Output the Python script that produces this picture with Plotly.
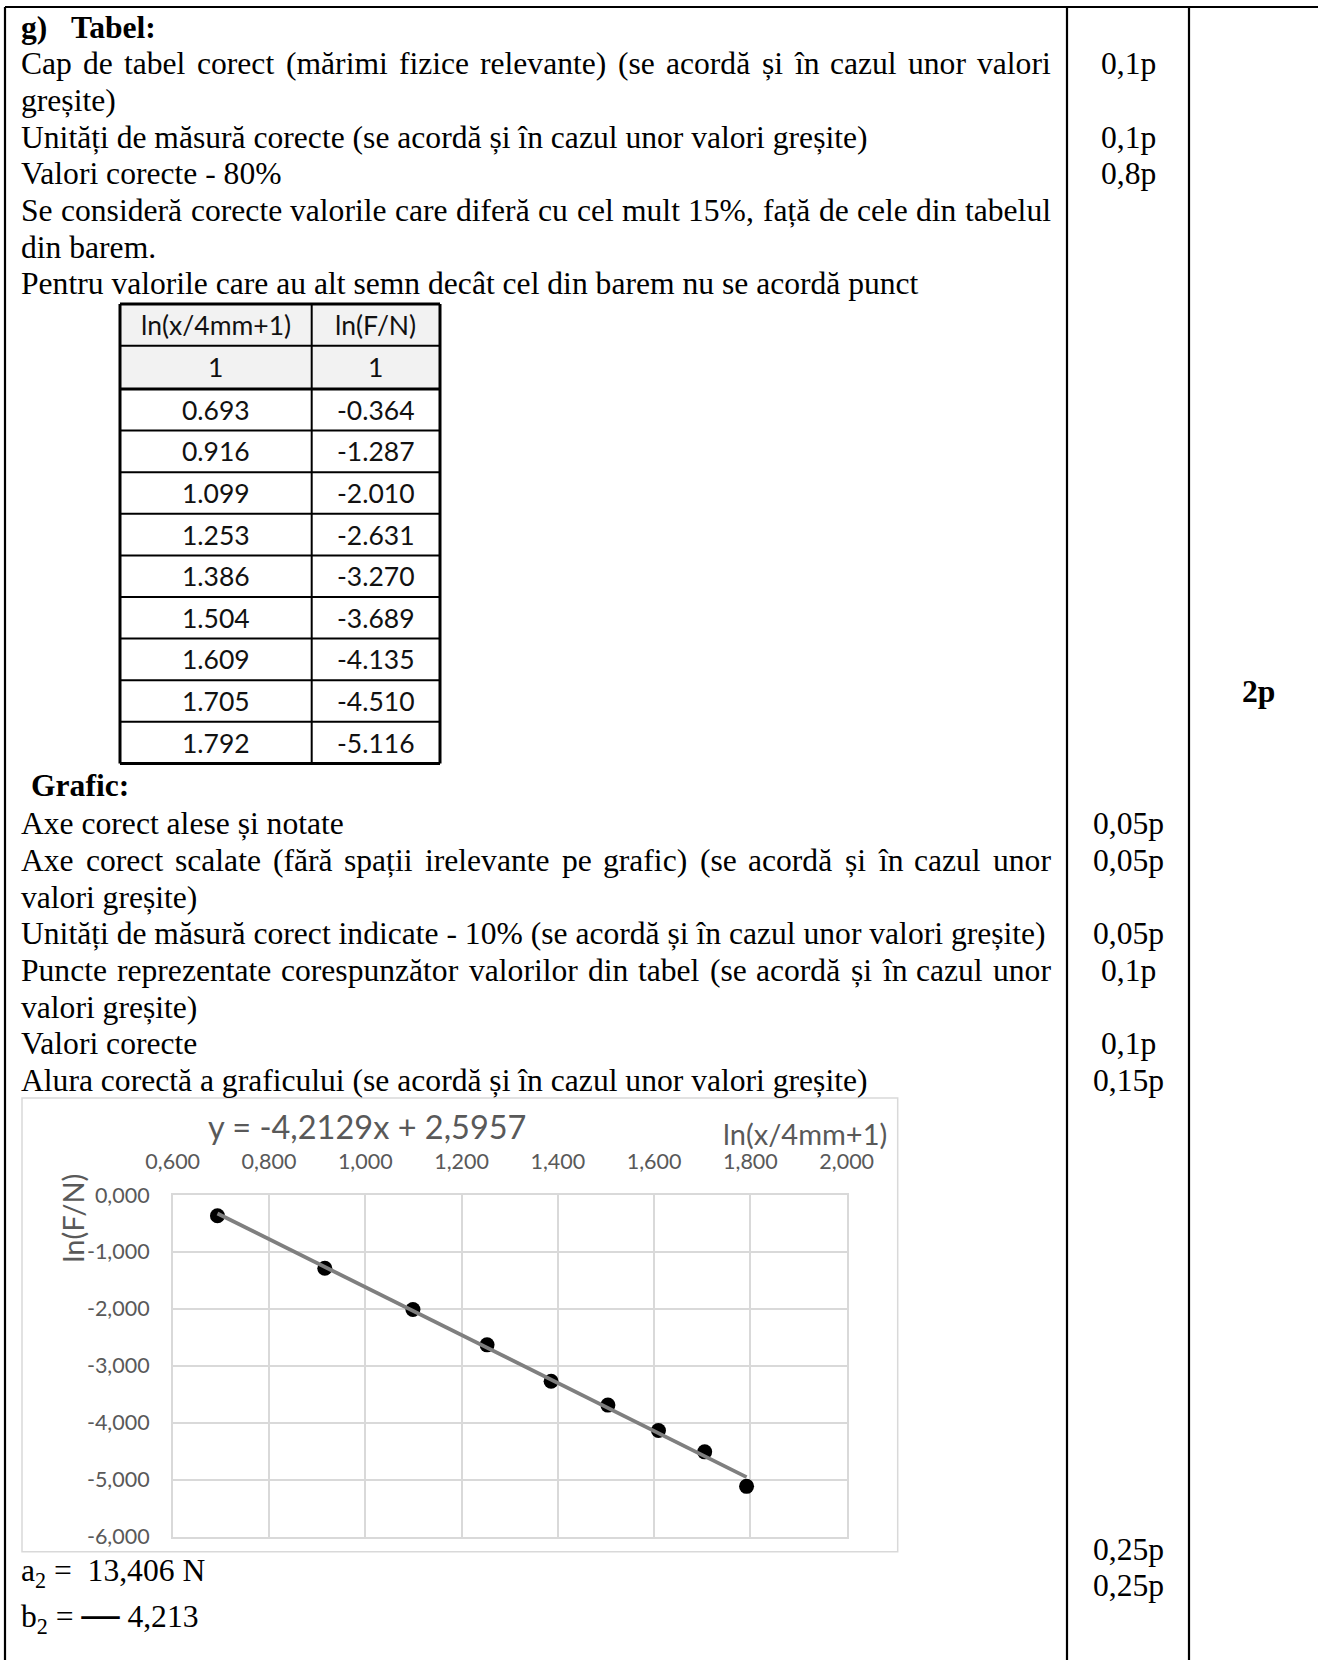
import plotly.graph_objects as go

W, H = 1318, 1660

# ---------------- data ----------------
ln_x = [0.693, 0.916, 1.099, 1.253, 1.386, 1.504, 1.609, 1.705, 1.792]
ln_F = [-0.364, -1.287, -2.010, -2.631, -3.270, -3.689, -4.135, -4.510, -5.116]
table_header = ["ln(x/4mm+1)", "ln(F/N)"]
table_units = ["1", "1"]

trend_slope = -4.2129
trend_intercept = 2.5957

x_tick_values = [0.6, 0.8, 1.0, 1.2, 1.4, 1.6, 1.8, 2.0]
x_tick_labels = ["0,600", "0,800", "1,000", "1,200", "1,400", "1,600", "1,800", "2,000"]
y_tick_values = [0, -1, -2, -3, -4, -5, -6]
y_tick_labels = ["0,000", "-1,000", "-2,000", "-3,000", "-4,000", "-5,000", "-6,000"]

x_axis_title = "ln(x/4mm+1)"
y_axis_title = "ln(F/N)"

a2_text = "13,406 N"
b2_text = "4,213"

table_lines = [
    ("just", "Cap de tabel corect (mărimi fizice relevante) (se acordă și în cazul unor valori"),
    ("left", "greșite)"),
    ("left", "Unități de măsură corecte (se acordă și în cazul unor valori greșite)"),
    ("left", "Valori corecte - 80%"),
    ("just", "Se consideră corecte valorile care diferă cu cel mult 15%, față de cele din tabelul"),
    ("left", "din barem."),
    ("left", "Pentru valorile care au alt semn decât cel din barem nu se acordă punct"),
]
graph_lines = [
    ("left", "Axe corect alese și notate"),
    ("just", "Axe corect scalate (fără spații irelevante pe grafic) (se acordă și în cazul unor"),
    ("left", "valori greșite)"),
    ("left", "Unități de măsură corect indicate - 10% (se acordă și în cazul unor valori greșite)"),
    ("just", "Puncte reprezentate corespunzător valorilor din tabel (se acordă și în cazul unor"),
    ("left", "valori greșite)"),
    ("left", "Valori corecte"),
    ("left", "Alura corectă a graficului (se acordă și în cazul unor valori greșite)"),
]
# points per line: (section, line index, score)
scores = [
    ("t", 0, "0,1p"), ("t", 2, "0,1p"), ("t", 3, "0,8p"),
    ("g", 0, "0,05p"), ("g", 1, "0,05p"), ("g", 3, "0,05p"),
    ("g", 4, "0,1p"), ("g", 6, "0,1p"), ("g", 7, "0,15p"),
]
final_scores = ["0,25p", "0,25p"]
total_score = "2p"

# ---------------- styling ----------------
SERIF = "Liberation Serif"
SANS = "Lato"
FS = 31.6
GRAY_TXT = "#595959"
GRID = "#d9d9d9"

TEXT_X0, TEXT_X1 = 20, 1050
PITCH = 36.7
T_Y0 = 63.7      # first line after "Tabel:"
G_Y0 = 823.6     # first line after "Grafic:"

# Times-metric advance widths (per em) used for justified lines
_TNR = {
    'a': .444, 'b': .5, 'c': .444, 'd': .5, 'e': .444, 'f': .333, 'g': .5, 'h': .5,
    'i': .278, 'j': .278, 'k': .5, 'l': .278, 'm': .778, 'n': .5, 'o': .5, 'p': .5,
    'q': .5, 'r': .333, 's': .389, 't': .278, 'u': .5, 'v': .5, 'w': .722, 'x': .5,
    'y': .5, 'z': .444, 'ă': .444, 'â': .444, 'î': .278, 'ș': .389, 'ț': .278,
    'A': .722, 'C': .667, 'P': .556, 'S': .556, 'U': .722, 'V': .722,
    '(': .333, ')': .333, ',': .25, '.': .25, '-': .333, '%': .833, ':': .278, ' ': .25,
}


def tnr_width(s, size=FS):
    return sum(_TNR.get(c, .5) for c in s) * size


def px(x):
    return x / W


def py(y):
    return 1 - y / H


fig = go.Figure()


def text(x, y, s, size=FS, anchor="left", family=SERIF, color="black", angle=0):
    fig.add_annotation(
        x=px(x), y=py(y), xref="paper", yref="paper", text=s, showarrow=False,
        xanchor=anchor, yanchor="middle", textangle=angle, borderpad=0,
        font=dict(family=family, size=size, color=color),
    )


def justified(y, s):
    words = s.split(" ")
    widths = [tnr_width(w) for w in words]
    gap = (TEXT_X1 - TEXT_X0 - sum(widths)) / (len(words) - 1)
    x = TEXT_X0
    for w, wd in zip(words, widths):
        text(x, y, w)
        x += wd + gap


def hline(x0, x1, y, width=2.2, color="black"):
    fig.add_shape(type="line", xref="paper", yref="paper",
                  x0=px(x0), x1=px(x1), y0=py(y), y1=py(y),
                  line=dict(color=color, width=width))


def vline(x, y0, y1, width=2.2, color="black"):
    fig.add_shape(type="line", xref="paper", yref="paper",
                  x0=px(x), x1=px(x), y0=py(y0), y1=py(y1),
                  line=dict(color=color, width=width))


# ---------------- page frame ----------------
vline(5, 7, H)
hline(5, W, 7)
vline(1067, 7, H)
vline(1189, 7, H)

# ---------------- text block ----------------
text(TEXT_X0, 27, "<b>g)</b>")
text(70, 27, "<b>Tabel:</b>")
for i, (mode, s) in enumerate(table_lines):
    y = T_Y0 + i * PITCH
    if mode == "just":
        justified(y, s)
    else:
        text(TEXT_X0, y, s)

text(30, 785.5, "<b>Grafic:</b>")
for i, (mode, s) in enumerate(graph_lines):
    y = G_Y0 + i * PITCH
    if mode == "just":
        justified(y, s)
    else:
        text(TEXT_X0, y, s)

SCORE_X = 1128
for sec, idx, s in scores:
    y = (T_Y0 if sec == "t" else G_Y0) + idx * PITCH
    text(SCORE_X, y, s, anchor="center")
for i, s in enumerate(final_scores):
    text(SCORE_X, 1549.8 + i * 36, s, anchor="center")
text(1258, 691, f"<b>{total_score}</b>", anchor="center")

text(TEXT_X0, 1573, f"a<sub>2</sub> =  {a2_text}")
text(TEXT_X0, 1616,
     f'b<sub>2</sub> = <span style="font-size:38px"><b>—</b></span> {b2_text}')

# ---------------- data table ----------------
TX0, TX1, TXM = 120, 440, 311.7
row_edges = [304, 345.7, 389, 430.6, 472.2, 513.8, 555.4, 597, 638.6, 680.2, 721.8, 763.4]
fig.add_shape(type="rect", xref="paper", yref="paper",
              x0=px(TX0), x1=px(TX1), y0=py(row_edges[0]), y1=py(row_edges[2]),
              fillcolor="#f2f2f2", line=dict(width=0), layer="below")
for k, y in enumerate(row_edges):
    w = 3 if k in (0, 2, len(row_edges) - 1) else 2
    hline(TX0, TX1, y, width=w)
vline(TX0, row_edges[0], row_edges[-1], width=3)
vline(TX1, row_edges[0], row_edges[-1], width=3)
vline(TXM, row_edges[0], row_edges[-1], width=2)

col_centers = [(TX0 + TXM) / 2, (TXM + TX1) / 2]
rows = [table_header, table_units] + [[f"{a:.3f}", f"{b:.3f}"] for a, b in zip(ln_x, ln_F)]
for r, cells in enumerate(rows):
    yc = (row_edges[r] + row_edges[r + 1]) / 2
    for c, s in enumerate(cells):
        text(col_centers[c], yc, s, size=26.5, anchor="center", family=SANS, color="#111111")

# ---------------- chart ----------------
fig.add_shape(type="rect", xref="paper", yref="paper",
              x0=px(22), x1=px(897.7), y0=py(1098), y1=py(1551.7),
              line=dict(color=GRID, width=1.5), fillcolor="rgba(0,0,0,0)")

fig.add_trace(go.Scatter(
    x=ln_x, y=ln_F, mode="markers",
    marker=dict(color="black", size=15), showlegend=False, hoverinfo="skip",
))
trend_x = [min(ln_x), max(ln_x)]
trend_y = [trend_slope * v + trend_intercept for v in trend_x]
fig.add_trace(go.Scatter(
    x=trend_x, y=trend_y, mode="lines",
    line=dict(color="#7f7f7f", width=3.8), showlegend=False, hoverinfo="skip",
))

eq_label = f"y = {trend_slope:.4f}x + {trend_intercept:.4f}".replace(".", ",")
text(207, 1126, eq_label, size=32.5, family=SANS, color=GRAY_TXT)
text(888, 1133, x_axis_title, size=29, anchor="right", family=SANS, color=GRAY_TXT)
text(71.5, 1218, y_axis_title, size=29, anchor="center", family=SANS, color=GRAY_TXT, angle=-90)

axis_font = dict(family=SANS, size=21.5, color=GRAY_TXT)
fig.update_layout(
    width=W, height=H,
    margin=dict(l=0, r=0, t=0, b=0),
    paper_bgcolor="white", plot_bgcolor="white",
    font=dict(family=SERIF, color="black"),
    showlegend=False,
    xaxis=dict(
        domain=[px(172.7), px(846.7)], range=[0.6, 2.0], side="top",
        tickvals=x_tick_values, ticktext=x_tick_labels, tickfont=axis_font,
        showgrid=True, gridcolor=GRID, gridwidth=1.5, zeroline=False,
        showline=True, linecolor=GRID, linewidth=1.5, mirror=True,
        ticks="", ticklabelstandoff=16, automargin=False, fixedrange=True,
    ),
    yaxis=dict(
        domain=[py(1536.7), py(1195)], range=[-6, 0],
        tickvals=y_tick_values, ticktext=y_tick_labels, tickfont=axis_font,
        showgrid=True, gridcolor=GRID, gridwidth=1.5, zeroline=False,
        showline=True, linecolor=GRID, linewidth=1.5, mirror=True,
        ticks="", ticklabelstandoff=17, automargin=False, fixedrange=True,
    ),
)

fig.write_html("out.html", config={"displayModeBar": False})
